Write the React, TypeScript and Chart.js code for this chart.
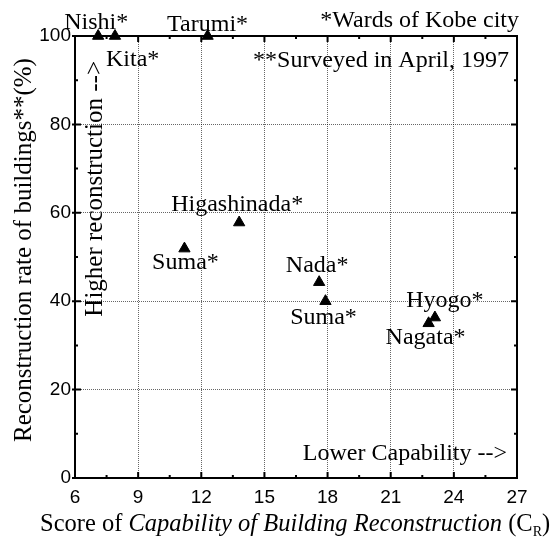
import React, { useEffect, useRef } from 'react';
import { Chart, registerables } from 'chart.js';

Chart.register(...registerables);

// ---- data ----
const wards = ['Nishi*', 'Kita*', 'Tarumi*', 'Suma*', 'Higashinada*', 'Nada*', 'Suma*', 'Hyogo*', 'Nagata*'];
const capabilityScores = [7.1, 7.9, 12.3, 11.2, 13.8, 17.6, 17.9, 23.1, 22.8];
const reconstructionRates = [100, 100, 100, 51.9, 57.8, 44.3, 40.0, 36.3, 35.0];
const xTickValues = [6, 9, 12, 15, 18, 21, 24, 27];
const yTickValues = [0, 20, 40, 60, 80, 100];

// label placement relative to each point (pixels): [dx, dy, align]
const labelOffsets: [number, number, CanvasTextAlign][] = [
  [-2, -7, 'center'],
  [-9, 30, 'left'],
  [0, -5, 'center'],
  [1, 20, 'center'],
  [-2, -12, 'center'],
  [-2, -10, 'center'],
  [-2, 23, 'center'],
  [10, -11, 'center'],
  [-3, 21, 'center'],
];

const SERIF = '"Liberation Serif", "Times New Roman", serif';
const SANS = '"Liberation Sans", Arial, sans-serif';

const decorPlugin = {
  id: 'decor',
  beforeDatasetsDraw(chart: any) {
    const { ctx, chartArea } = chart;
    const { left, right, top, bottom } = chartArea;
    const xs = chart.scales.x;
    const ys = chart.scales.y;
    ctx.save();
    ctx.strokeStyle = '#000';
    ctx.lineWidth = 2;
    ctx.strokeRect(left, top, right - left, bottom - top);
    ctx.lineWidth = 2;
    ctx.beginPath();
    for (let v = 6; v <= 27.001; v += 1.5) {
      const px = xs.getPixelForValue(v);
      const major = Math.abs((v - 6) % 3) < 0.01;
      const len = major ? 6 : 3;
      ctx.moveTo(px, bottom);
      ctx.lineTo(px, bottom - len);
      ctx.moveTo(px, top);
      ctx.lineTo(px, top + len);
    }
    for (let v = 0; v <= 100.001; v += 10) {
      const py = ys.getPixelForValue(v);
      const major = v % 20 === 0;
      const len = major ? 6 : 3;
      ctx.moveTo(left - (major ? 3 : 0), py);
      ctx.lineTo(left + len, py);
      ctx.moveTo(right, py);
      ctx.lineTo(right - len, py);
    }
    ctx.stroke();
    ctx.restore();
  },
  afterDatasetsDraw(chart: any) {
    const { ctx, chartArea } = chart;
    const { left, right, top, bottom } = chartArea;
    const meta = chart.getDatasetMeta(0);
    ctx.save();
    ctx.fillStyle = '#000';
    ctx.textBaseline = 'alphabetic';
    ctx.font = `24px ${SERIF}`;
    meta.data.forEach((pt: any, i: number) => {
      const [dx, dy, align] = labelOffsets[i];
      ctx.textAlign = align;
      ctx.fillText(wards[i], pt.x + dx, pt.y + dy);
    });
    ctx.textAlign = 'right';
    ctx.fillText('*Wards of Kobe city', right + 2, top - 9);
    ctx.fillText('**Surveyed in April, 1997', right - 8, top + 31);
    ctx.fillText('Lower Capability -->', right - 10, bottom - 18);

    ctx.font = `25px ${SERIF}`;
    ctx.save();
    ctx.translate(left + 27, top + 25);
    ctx.rotate(-Math.PI / 2);
    ctx.textAlign = 'right';
    ctx.fillText('Higher reconstruction -->', 0, 0);
    ctx.restore();

    ctx.save();
    ctx.translate(31, bottom - 36);
    ctx.rotate(-Math.PI / 2);
    ctx.textAlign = 'left';
    ctx.fillText('Reconstruction rate of buildings**(%)', 0, 0);
    ctx.restore();

    const segs: [string, string, number][] = [
      ['Score of ', `24.5px ${SERIF}`, 0],
      ['Capability of Building Reconstruction', `italic 24.5px ${SERIF}`, 0],
      [' (C', `24.5px ${SERIF}`, 0],
      ['R', `14px ${SERIF}`, 5],
      [')', `24.5px ${SERIF}`, 0],
    ];
    let x = 40;
    const baseY = 531;
    ctx.textAlign = 'left';
    segs.forEach(([t, f, off]) => {
      ctx.font = f;
      ctx.fillText(t, x, baseY + off);
      x += ctx.measureText(t).width;
    });
    ctx.restore();
  },
};

export default function App() {
  const canvasRef = useRef<HTMLCanvasElement>(null);

  useEffect(() => {
    const canvas = canvasRef.current;
    if (!canvas) return;
    const chart = new Chart(canvas, {
      type: 'scatter',
      data: {
        datasets: [
          {
            label: 'Wards',
            data: capabilityScores.map((x, i) => ({ x, y: reconstructionRates[i] })),
            pointStyle: 'triangle',
            pointRadius: 6.5,
            pointHoverRadius: 6.5,
            backgroundColor: '#000',
            borderColor: '#000',
            borderWidth: 1,
            clip: false,
          },
        ],
      },
      options: {
        responsive: false,
        animation: false,
        events: [],
        layout: { padding: { top: 36, right: 34, left: 0, bottom: 0 } },
        plugins: {
          legend: { display: false },
          tooltip: { enabled: false },
          title: { display: false },
        },
        scales: {
          x: {
            type: 'linear',
            min: 6,
            max: 27,
            afterBuildTicks: (scale: any) => {
              scale.ticks = xTickValues.map((v) => ({ value: v }));
            },
            afterFit: (scale: any) => {
              scale.height = 63;
            },
            ticks: {
              color: '#000',
              font: { family: SANS, size: 19 },
              padding: 8,
              maxRotation: 0,
            },
            grid: {
              color: 'rgba(0,0,0,0.6)',
              lineWidth: 1,
              drawTicks: false,
            },
            border: { display: false, dash: [1, 1] },
          },
          y: {
            type: 'linear',
            min: 0,
            max: 100,
            afterBuildTicks: (scale: any) => {
              scale.ticks = yTickValues.map((v) => ({ value: v }));
            },
            afterFit: (scale: any) => {
              scale.width = 75;
            },
            ticks: {
              color: '#000',
              font: { family: SANS, size: 19 },
              padding: 4,
            },
            grid: {
              color: 'rgba(0,0,0,0.6)',
              lineWidth: 1,
              drawTicks: false,
            },
            border: { display: false, dash: [1, 1] },
          },
        },
      },
      plugins: [decorPlugin],
    });
    return () => chart.destroy();
  }, []);

  return (
    <div style={{ position: 'absolute', left: 0, top: 0, width: 551, height: 541, background: '#fff' }}>
      <canvas ref={canvasRef} width={551} height={541} style={{ width: 551, height: 541, display: 'block' }} />
    </div>
  );
}
